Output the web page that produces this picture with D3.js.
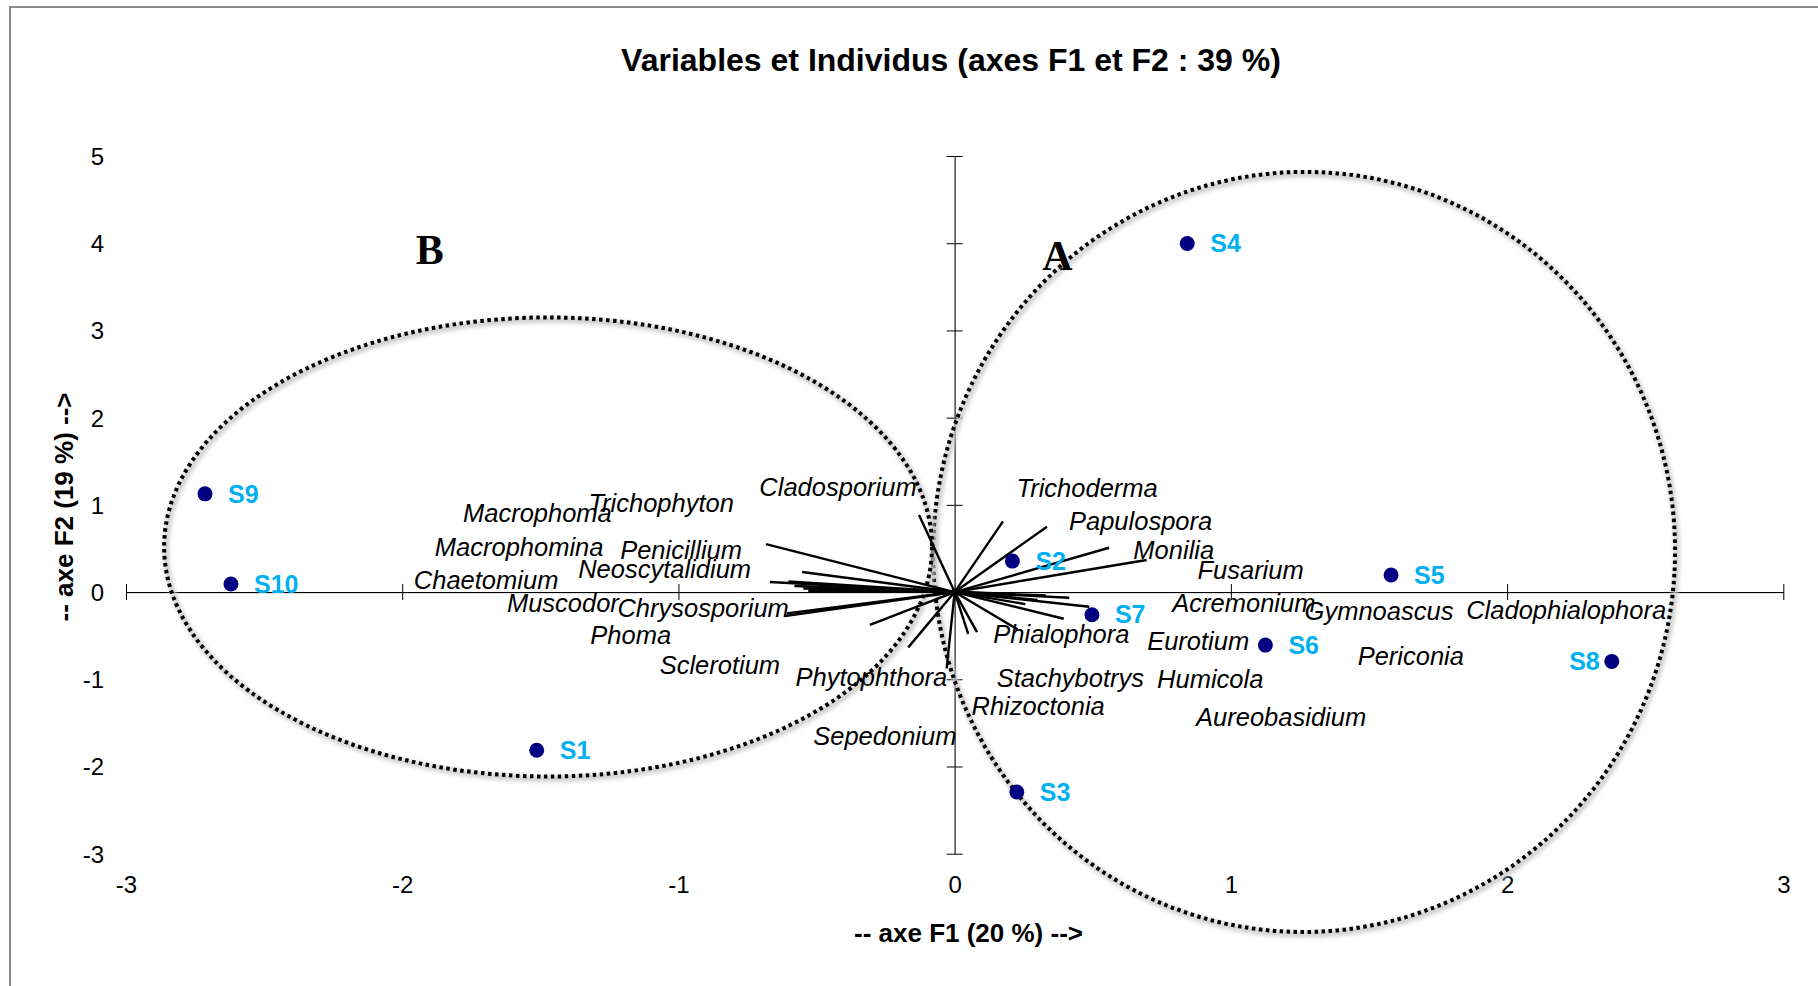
<!DOCTYPE html>
<html>
<head>
<meta charset="utf-8">
<script src="https://cdn.jsdelivr.net/npm/d3@7"></script>
<style>
  html, body { margin: 0; padding: 0; background: #fff; }
  svg { display: block; }
</style>
</head>
<body>
<svg id="chart" width="1818" height="986"></svg>
<script>
// ---------------- DATA ----------------
const title = "Variables et Individus (axes F1 et F2 : 39 %)";
const xTitle = "-- axe F1 (20 %) -->";
const yTitle = "-- axe F2 (19 %) -->";
const xTicks = [-3, -2, -1, 0, 1, 2, 3];
const yTicks = [-3, -2, -1, 0, 1, 2, 3, 4, 5];

// Individuals (observations)
const indNames = ["S1", "S2", "S3", "S4", "S5", "S6", "S7", "S8", "S9", "S10"];
const indF1 = [-1.513, 0.209, 0.225, 0.842, 1.580, 1.125, 0.497, 2.379, -2.714, -2.620];
const indF2 = [-1.813, 0.355, -2.292, 3.997, 0.195, -0.608, -0.260, -0.795, 1.126, 0.092];
const indLabelLeft = ["S8"];

// Variables (vectors) : end coordinates and label anchor (data units)
const varNames = ["Cladosporium", "Trichophyton", "Macrophoma", "Macrophomina", "Penicillium",
  "Neoscytalidium", "Chaetomium", "Muscodor", "Chrysosporium", "Phoma", "Sclerotium",
  "Phytophthora", "Sepedonium", "Trichoderma", "Papulospora", "Monilia", "Fusarium",
  "Acremonium", "Gymnoascus", "Cladophialophora", "Phialophora", "Eurotium", "Periconia",
  "Stachybotrys", "Humicola", "Rhizoctonia", "Aureobasidium"];
const varF1 = [-0.129, -0.683, -0.548, -0.669, -0.552, -0.602, -0.530, -0.580, -0.608, -0.615, -0.307,
  -0.168, -0.029, 0.175, 0.334, 0.559, 0.695, 0.415, 0.256, 0.487, 0.228, 0.395, 0.330,
  0.081, 0.300, 0.049, 0.200];
const varF2 = [0.883, 0.550, 0.040, 0.115, 0.230, 0.123, 0.015, 0.070, -0.245, -0.275, -0.375,
  -0.634, -0.874, 0.811, 0.749, 0.508, 0.367, -0.065, -0.138, -0.168, -0.428, -0.306, -0.040,
  -0.460, -0.090, -0.480, -0.020];
const varLabelF1 = [-0.707, -1.326, -1.780, -1.882, -1.211, -1.363, -1.958, -1.621, -1.221, -1.319, -1.068,
  -0.576, -0.512, 0.224, 0.414, 0.647, 0.879, 0.788, 1.267, 1.852, 0.140, 0.697, 1.459,
  0.152, 0.733, 0.061, 0.874];
const varLabelF2 = [1.209, 1.018, 0.904, 0.521, 0.483, 0.261, 0.139, -0.128, -0.186, -0.492, -0.836,
  -0.970, -1.650, 1.190, 0.819, 0.483, 0.253, -0.122, -0.213, -0.205, -0.480, -0.557, -0.729,
  -0.989, -1.000, -1.306, -1.436];

// Group annotations (data units)
const groupNames = ["A", "B"];
const groupLabelF1 = [0.372, -1.900];
const groupLabelF2 = [3.859, 3.931];
const groupCenterF1 = [1.265, -1.472];
const groupCenterF2 = [0.460, 0.517];
const groupRadF1 = [1.343, 1.390];
const groupRadF2 = [4.358, 2.632];
const groupTilt = [3.4, 0];

// ---------------- CHART ----------------
const SANS = '"Liberation Sans", Arial, sans-serif';
const SERIF = '"Liberation Serif", "Times New Roman", serif';
const svg = d3.select("#chart").style("font-family", SANS);
const W = 1818, H = 986;

const xs = d3.scaleLinear().domain([-3, 3]).range([126, 1783.3]);
const ys = d3.scaleLinear().domain([-3, 5]).range([853.7, 156]);

const defs = svg.append("defs");
const f = defs.append("filter").attr("id", "blur").attr("x", "-20%").attr("y", "-20%").attr("width", "140%").attr("height", "140%");
f.append("feGaussianBlur").attr("stdDeviation", 2.2);

// frame (chart area border, partially visible)
svg.append("rect").attr("x", 10).attr("y", 7).attr("width", W + 50).attr("height", H + 50)
  .attr("fill", "#fff").attr("stroke", "#8c8c8c").attr("stroke-width", 2);

// title
svg.append("text").attr("x", 951).attr("y", 60).attr("text-anchor", "middle")
  .attr("dominant-baseline", "central").attr("font-size", 32).attr("font-weight", "bold").text(title);

// axis titles
svg.append("text").attr("x", 968.5).attr("y", 933).attr("text-anchor", "middle")
  .attr("dominant-baseline", "central").attr("font-size", 26).attr("font-weight", "bold").text(xTitle);
svg.append("text").attr("transform", "translate(64,507) rotate(-90)").attr("text-anchor", "middle")
  .attr("dominant-baseline", "central").attr("font-size", 26).attr("font-weight", "bold").text(yTitle);

// axes lines with crossing ticks
const gxA = svg.append("g").attr("transform", `translate(0,${ys(0)})`);
gxA.append("g").call(d3.axisBottom(xs).tickValues(xTicks).tickSize(8).tickSizeOuter(0).tickFormat(""));
gxA.append("g").call(d3.axisTop(xs).tickValues(xTicks).tickSize(8).tickSizeOuter(0).tickFormat(""));
const gyA = svg.append("g").attr("transform", `translate(${xs(0)},0)`);
gyA.append("g").call(d3.axisLeft(ys).tickValues(yTicks).tickSize(8).tickSizeOuter(0).tickFormat(""));
gyA.append("g").call(d3.axisRight(ys).tickValues(yTicks).tickSize(8).tickSizeOuter(0).tickFormat(""));
svg.selectAll(".domain, .tick line").attr("stroke", "#000").attr("stroke-width", 1);
gyA.selectAll(".domain").attr("stroke", "#444");

// tick labels at low position (plain hyphen minus, as in the reference)
const fmt = d => String(d);
const gxL = svg.append("g").attr("transform", "translate(0,885)")
  .call(d3.axisBottom(xs).tickValues(xTicks).tickSize(0).tickPadding(0).tickFormat(fmt));
gxL.select(".domain").remove();
gxL.selectAll("text").attr("y", 0).attr("dy", "0.35em");
const gyL = svg.append("g").attr("transform", "translate(104,0)")
  .call(d3.axisLeft(ys).tickValues(yTicks).tickSize(0).tickPadding(0).tickFormat(fmt));
gyL.select(".domain").remove();
gyL.selectAll("text").attr("dy", "0.35em");
[gxL, gyL].forEach(g => g.attr("font-family", null).attr("font-size", null));
svg.selectAll(".tick text").attr("font-size", 24).attr("fill", "#000").style("font-family", SANS);

// group ellipses
const groups = groupNames.map((n, i) => ({
  name: n, lx: groupLabelF1[i], ly: groupLabelF2[i],
  cx: groupCenterF1[i], cy: groupCenterF2[i], rx: groupRadF1[i], ry: groupRadF2[i], tilt: groupTilt[i]
}));
const eg = svg.append("g");
groups.forEach(g => {
  const cx = xs(g.cx), cy = ys(g.cy);
  const rx = xs(g.cx + g.rx) - xs(g.cx), ry = ys(g.cy) - ys(g.cy + g.ry);
  eg.append("ellipse").attr("cx", cx + 2).attr("cy", cy + 2.5).attr("rx", rx).attr("ry", ry)
    .attr("transform", `rotate(${g.tilt},${cx},${cy})`)
    .attr("fill", "none").attr("stroke", "#c8c8c8").attr("stroke-width", 5).attr("filter", "url(#blur)");
  eg.append("ellipse").attr("cx", cx).attr("cy", cy).attr("rx", rx).attr("ry", ry)
    .attr("transform", `rotate(${g.tilt},${cx},${cy})`)
    .attr("fill", "none").attr("stroke", "#000").attr("stroke-width", 4).attr("stroke-dasharray", "3.5 3.5");
});

// variable vectors
const vars = varNames.map((n, i) => ({ name: n, x: varF1[i], y: varF2[i], lx: varLabelF1[i], ly: varLabelF2[i] }));
svg.append("g").selectAll("line").data(vars).join("line")
  .attr("x1", xs(0)).attr("y1", ys(0))
  .attr("x2", d => xs(d.x)).attr("y2", d => ys(d.y))
  .attr("stroke", "#000").attr("stroke-width", 2.4);
svg.append("g").selectAll("text").data(vars).join("text")
  .attr("x", d => xs(d.lx)).attr("y", d => ys(d.ly)).attr("dy", "0.35em")
  .attr("font-size", 25.5).attr("font-style", "italic").attr("fill", "#000")
  .text(d => d.name);

// individuals
const inds = indNames.map((n, i) => ({ name: n, x: indF1[i], y: indF2[i] }));
svg.append("g").selectAll("circle").data(inds).join("circle")
  .attr("cx", d => xs(d.x)).attr("cy", d => ys(d.y)).attr("r", 7.5).attr("fill", "#000080");
svg.append("g").selectAll("text").data(inds).join("text")
  .attr("x", d => indLabelLeft.includes(d.name) ? xs(d.x) - 12 : xs(d.x) + 23)
  .attr("y", d => ys(d.y)).attr("dy", "0.35em")
  .attr("text-anchor", d => indLabelLeft.includes(d.name) ? "end" : "start")
  .attr("font-size", 25).attr("font-weight", "bold").attr("fill", "#00B0F0")
  .text(d => d.name);

// group letters
svg.append("g").selectAll("text").data(groups).join("text")
  .attr("x", d => xs(d.lx)).attr("y", d => ys(d.ly)).attr("dy", "0.35em")
  .attr("text-anchor", "middle").attr("font-size", 42).attr("font-weight", "bold")
  .style("font-family", SERIF)
  .text(d => d.name);
</script>
</body>
</html>
